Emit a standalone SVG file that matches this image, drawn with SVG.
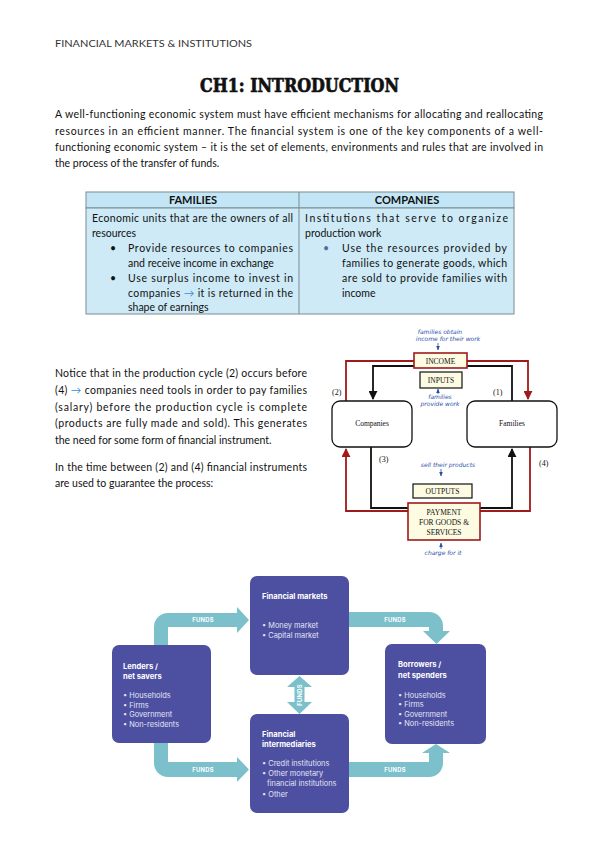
<svg xmlns="http://www.w3.org/2000/svg" width="599" height="848" viewBox="0 0 599 848">
<style>
.hdr{font-family:Lato,"Liberation Sans",sans-serif;font-size:9.5px;fill:#333}
.ttl{font-family:"DejaVu Serif",serif;font-weight:bold;font-size:18px;fill:#111;stroke:#111;stroke-width:0.7px}
.body{font-family:Lato,"Liberation Sans",sans-serif;font-size:10.5px;fill:#111}
.th{font-family:Lato,"Liberation Sans",sans-serif;font-size:11px;font-weight:bold;fill:#111}
.blue{fill:#3b8fd9}
.srf{font-family:"Liberation Serif",serif;font-size:7.5px;fill:#111}
.hand{font-family:"DejaVu Sans",sans-serif;font-style:italic;font-size:6px;fill:#2a4ea8}
.lbl{font-family:"Liberation Serif",serif;font-size:8px;fill:#111}
.box{fill:#fdfbe2}
.red{fill:none;stroke:#9e1b1b;stroke-width:1.8}
.blk{fill:none;stroke:#111;stroke-width:1.8}
.node{fill:#4d50a0}
.flow{fill:#7bc0cb}
.nt{font-family:Inter,"Open Sans",sans-serif;font-size:7.6px;font-weight:bold;fill:#fff}
.nb{font-family:Inter,"Open Sans",sans-serif;font-size:7.4px;fill:#e4e4f4}
.fl{font-family:Inter,"Open Sans",sans-serif;font-size:5.8px;font-weight:bold;fill:#fff;letter-spacing:0.3px}
</style>
<defs>
<marker id="ab" viewBox="0 0 10 10" refX="9" refY="5" markerWidth="5" markerHeight="5" orient="auto"><path d="M0,0 L10,5 L0,10 z" fill="#111"/></marker>
<marker id="ar" viewBox="0 0 10 10" refX="9" refY="5" markerWidth="5" markerHeight="5" orient="auto"><path d="M0,0 L10,5 L0,10 z" fill="#9e1b1b"/></marker>
<marker id="ah" viewBox="0 0 10 10" refX="9" refY="5" markerWidth="6" markerHeight="6" orient="auto"><path d="M0,1 L10,5 L0,9 z" fill="#2a4ea8"/></marker>
</defs>
<rect width="599" height="848" fill="#fff"/>

<text class="hdr" x="55" y="46.5" textLength="197" lengthAdjust="spacingAndGlyphs">FINANCIAL MARKETS &amp; INSTITUTIONS</text>
<text class="ttl" x="200" y="92" textLength="199" lengthAdjust="spacingAndGlyphs">CH1: INTRODUCTION</text>

<g id="intro">
<text class="body" x="55" y="118" textLength="488" lengthAdjust="spacing">A well-functioning economic system must have efficient mechanisms for allocating and reallocating</text>
<text class="body" x="55" y="135" textLength="488" lengthAdjust="spacing">resources in an efficient manner. The financial system is one of the key components of a well-</text>
<text class="body" x="55" y="151" textLength="488" lengthAdjust="spacing">functioning economic system – it is the set of elements, environments and rules that are involved in</text>
<text class="body" x="55" y="167">the process of the transfer of funds.</text>
</g>

<g id="table">
<rect x="86" y="192" width="428" height="16" fill="#c2e6f5" stroke="#7b8c93" stroke-width="1"/>
<rect x="86" y="208" width="428" height="106" fill="#cdeaf6" stroke="#7b8c93" stroke-width="1"/>
<line x1="299" y1="192" x2="299" y2="314" stroke="#7b8c93" stroke-width="1"/>
<text class="th" x="193" y="204" text-anchor="middle">FAMILIES</text>
<text class="th" x="407" y="204" text-anchor="middle">COMPANIES</text>
<text class="body" x="92" y="221.5" textLength="201" lengthAdjust="spacing">Economic units that are the owners of all</text>
<text class="body" x="92" y="236.5">resources</text>
<text class="body" x="110" y="251.5">•</text>
<text class="body" x="128" y="251.5" textLength="165" lengthAdjust="spacing">Provide resources to companies</text>
<text class="body" x="128" y="266.5">and receive income in exchange</text>
<text class="body" x="110" y="281.5">•</text>
<text class="body" x="128" y="281.5" textLength="165" lengthAdjust="spacing">Use surplus income to invest in</text>
<text class="body" x="128" y="296.5" textLength="165" lengthAdjust="spacing">companies <tspan class="blue">→</tspan> it is returned in the</text>
<text class="body" x="128" y="310.5">shape of earnings</text>
<text class="body" x="305" y="221.5" textLength="203" lengthAdjust="spacing">Institutions that serve to organize</text>
<text class="body" x="305" y="236.5">production work</text>
<text class="body" x="323" y="251.5" style="fill:#4f6f9f">•</text>
<text class="body" x="342" y="251.5" textLength="165" lengthAdjust="spacing">Use the resources provided by</text>
<text class="body" x="342" y="266.5" textLength="165" lengthAdjust="spacing">families to generate goods, which</text>
<text class="body" x="342" y="281.5" textLength="165" lengthAdjust="spacing">are sold to provide families with</text>
<text class="body" x="342" y="296.5">income</text>
</g>

<g id="notice">
<text class="body" x="55" y="376.5" textLength="252" lengthAdjust="spacing">Notice that in the production cycle (2) occurs before</text>
<text class="body" x="55" y="393.5" textLength="252" lengthAdjust="spacing">(4) <tspan class="blue">→</tspan> companies need tools in order to pay families</text>
<text class="body" x="55" y="410.5" textLength="252" lengthAdjust="spacing">(salary) before the production cycle is complete</text>
<text class="body" x="55" y="427" textLength="252" lengthAdjust="spacing">(products are fully made and sold). This generates</text>
<text class="body" x="55" y="443.5">the need for some form of financial instrument.</text>
<text class="body" x="55" y="470.5" textLength="252" lengthAdjust="spacing">In the time between (2) and (4) financial instruments</text>
<text class="body" x="55" y="486.5">are used to guarantee the process:</text>
</g>

<g id="cycle-connectors">
<path class="red" d="M346,401 V361 H414"/>
<path class="red" d="M467,361 H528 V399" marker-end="url(#ar)"/>
<path class="blk" d="M414,366 H373 V399" marker-end="url(#ab)"/>
<path class="blk" d="M467,366 H512 V401"/>
<path class="red" d="M408,511 H346 V449" marker-end="url(#ar)"/>
<path class="red" d="M480,511 H530 V447"/>
<path class="blk" d="M408,508 H371 V447"/>
<path class="blk" d="M480,508 H512 V449" marker-end="url(#ab)"/>
<line x1="438" y1="343" x2="438" y2="350" stroke="#2a4ea8" stroke-width="0.8" marker-end="url(#ah)"/>
<line x1="438" y1="394" x2="438" y2="389" stroke="#2a4ea8" stroke-width="0.8" marker-end="url(#ah)"/>
<line x1="441" y1="469" x2="441" y2="476" stroke="#2a4ea8" stroke-width="0.8" marker-end="url(#ah)"/>
<line x1="441" y1="549" x2="441" y2="543" stroke="#2a4ea8" stroke-width="0.8" marker-end="url(#ah)"/>
</g>

<g id="income">
<rect class="box" x="414" y="353" width="53" height="15" stroke="#9e1b1b" stroke-width="1.6"/>
<text class="srf" x="440.5" y="363.5" text-anchor="middle">INCOME</text>
</g>
<g id="inputs">
<rect class="box" x="420" y="372" width="42" height="16" stroke="#111" stroke-width="1.2"/>
<text class="srf" x="441" y="383" text-anchor="middle">INPUTS</text>
</g>
<g id="companies">
<rect x="332" y="401" width="80" height="46" rx="8" fill="#fff" stroke="#111" stroke-width="1.3"/>
<text class="srf" x="372" y="426" text-anchor="middle">Companies</text>
</g>
<g id="families">
<rect x="467" y="401" width="90" height="46" rx="8" fill="#fff" stroke="#111" stroke-width="1.3"/>
<text class="srf" x="512" y="426" text-anchor="middle">Families</text>
</g>
<g id="outputs">
<rect class="box" x="413" y="484" width="59" height="14" stroke="#111" stroke-width="1.2"/>
<text class="srf" x="442.5" y="494" text-anchor="middle">OUTPUTS</text>
</g>
<g id="payment">
<rect class="box" x="408" y="503" width="72" height="37" stroke="#9e1b1b" stroke-width="1.6"/>
<text class="srf" x="444" y="515" text-anchor="middle">PAYMENT</text>
<text class="srf" x="444" y="525" text-anchor="middle">FOR GOODS &amp;</text>
<text class="srf" x="444" y="535" text-anchor="middle">SERVICES</text>
</g>
<g id="cycle-labels">
<text class="lbl" x="332" y="395">(2)</text>
<text class="lbl" x="493" y="395">(1)</text>
<text class="lbl" x="379" y="462">(3)</text>
<text class="lbl" x="539" y="466">(4)</text>
<text class="hand" x="440" y="334" text-anchor="middle">families obtain</text>
<text class="hand" x="448" y="341" text-anchor="middle">income for their work</text>
<text class="hand" x="440" y="399" text-anchor="middle">families</text>
<text class="hand" x="440" y="406" text-anchor="middle">provide work</text>
<text class="hand" x="448" y="467" text-anchor="middle">sell their products</text>
<text class="hand" x="443" y="555" text-anchor="middle">charge for it</text>
</g>

<g id="funds-flows">
<path class="flow" d="M154,645 V627 A14,14 0 0 1 168,613 H237 V607 L249,620 L237,633 V627 H168 V645 Z"/>
<path class="flow" d="M349,612 H429 A14,14 0 0 1 443,626 V631 H450 L436.5,644 L423,631 H429 V627 H349 Z"/>
<path class="flow" d="M154,743 V763 A14,14 0 0 0 168,777 H237 V782 L249,769.5 L237,757 V762 H168 V743 Z"/>
<path class="flow" d="M349,762 H429 V753 H422 L436,744 L450,753 H443 V763 A14,14 0 0 1 429,777 H349 Z"/>
<path class="flow" d="M299.5,676 L312,687 H304.5 V702 H312 L299.5,714 L287,702 H294.5 V687 H287 Z"/>
<text class="fl" x="203" y="622" text-anchor="middle">FUNDS</text>
<text class="fl" x="395" y="622" text-anchor="middle">FUNDS</text>
<text class="fl" x="203" y="771.5" text-anchor="middle">FUNDS</text>
<text class="fl" x="395" y="771.5" text-anchor="middle">FUNDS</text>
<text class="fl" x="0" y="0" text-anchor="middle" transform="translate(301.5,695) rotate(-90)">FUNDS</text>
</g>

<g id="lenders">
<rect class="node" x="112" y="645" width="99" height="98" rx="7"/>
<text class="nt" x="123" y="668.5">Lenders /</text>
<text class="nt" x="123" y="679">net savers</text>
<text class="nb" x="123" y="698">• Households</text>
<text class="nb" x="123" y="707.5">• Firms</text>
<text class="nb" x="123" y="717">• Government</text>
<text class="nb" x="123" y="726.5">• Non-residents</text>
</g>
<g id="markets">
<rect class="node" x="250" y="576" width="99" height="99" rx="7"/>
<text class="nt" x="262" y="598.5">Financial markets</text>
<text class="nb" x="262" y="627.5">• Money market</text>
<text class="nb" x="262" y="638">• Capital market</text>
</g>
<g id="borrowers">
<rect class="node" x="385" y="644" width="101" height="100" rx="7"/>
<text class="nt" x="398" y="667">Borrowers /</text>
<text class="nt" x="398" y="677.5">net spenders</text>
<text class="nb" x="398" y="697.5">• Households</text>
<text class="nb" x="398" y="707">• Firms</text>
<text class="nb" x="398" y="716.5">• Government</text>
<text class="nb" x="398" y="726">• Non-residents</text>
</g>
<g id="intermediaries">
<rect class="node" x="250" y="714" width="99" height="99" rx="7"/>
<text class="nt" x="262" y="737">Financial</text>
<text class="nt" x="262" y="747">intermediaries</text>
<text class="nb" x="262" y="766">• Credit institutions</text>
<text class="nb" x="262" y="776">• Other monetary</text>
<text class="nb" x="267" y="786">financial institutions</text>
<text class="nb" x="262" y="796.5">• Other</text>
</g>
</svg>
